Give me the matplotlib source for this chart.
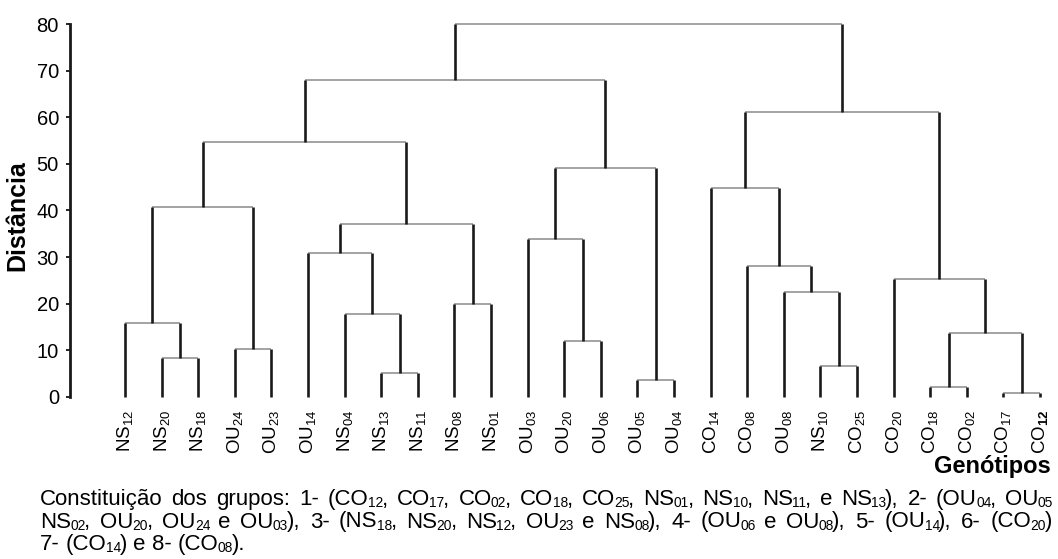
import re
import numpy as np
import matplotlib
matplotlib.use('Agg')
import matplotlib.pyplot as plt
from matplotlib.font_manager import FontProperties

plt.rcParams['font.family'] = ['Liberation Sans', 'DejaVu Sans']
plt.rcParams['mathtext.fontset'] = 'custom'
plt.rcParams['mathtext.rm'] = 'Liberation Sans'
plt.rcParams['mathtext.it'] = 'Liberation Sans:italic'
plt.rcParams['mathtext.bf'] = 'Liberation Sans:bold'
plt.rcParams['mathtext.sf'] = 'Liberation Sans'

# leaves, in dendrogram order
leaf_base = ['NS', 'NS', 'NS', 'OU', 'OU', 'OU', 'NS', 'NS', 'NS', 'NS', 'NS',
             'OU', 'OU', 'OU', 'OU', 'OU', 'CO', 'CO', 'OU', 'NS', 'CO', 'CO',
             'CO', 'CO', 'CO', 'CO']
leaf_sub = ['12', '20', '18', '24', '23', '14', '04', '13', '11', '08', '01',
            '03', '20', '06', '05', '04', '14', '08', '08', '10', '25', '20',
            '18', '02', '17', '12']

# merges: ids 0..25 are leaves, merge k gets id 26 + k
merge_left = [1, 0, 3, 27, 7, 6, 5, 9, 32, 29, 12, 11, 14, 37, 35,
              19, 18, 17, 16, 22, 24, 45, 21, 44, 40]
merge_right = [2, 26, 4, 28, 8, 30, 31, 10, 33, 34, 13, 36, 15, 38, 39,
               20, 41, 42, 43, 23, 25, 46, 47, 48, 49]
merge_height = [8.4, 15.8, 10.2, 40.7, 5.1, 17.8, 30.8, 20.0, 37.1, 54.6,
                12.0, 33.8, 3.6, 49.1, 68.0, 6.7, 22.5, 28.0, 44.8, 2.2,
                0.8, 13.8, 25.3, 61.1, 80.0]

# caption lines, _{..} marks a subscript
caption = [
    'Constituição dos grupos: 1- (CO_{12}, CO_{17}, CO_{02}, CO_{18}, CO_{25}, '
    'NS_{01}, NS_{10}, NS_{11}, e NS_{13}), 2- (OU_{04}, OU_{05}',
    'NS_{02}, OU_{20}, OU_{24} e OU_{03}), 3- (NS_{18}, NS_{20}, NS_{12}, OU_{23} e '
    'NS_{08}), 4- (OU_{06} e OU_{08}), 5- (OU_{14}), 6- (CO_{20})',
    '7- (CO_{14}) e 8- (CO_{08}).',
]
caption_justify = [True, True, False]

W, H = 1058, 559
fig = plt.figure(figsize=(W / 100, H / 100), dpi=100, facecolor='white')
ax_l, ax_r, ax_b, ax_t = 70, 1058, 397, 24
ax = fig.add_axes([ax_l / W, 1 - ax_b / H, (ax_r - ax_l) / W, (ax_b - ax_t) / H])

n_leaf = len(leaf_base)
step = 36.6
x0 = -(125 - ax_l) / step
ax.set_xlim(x0, x0 + (ax_r - ax_l) / step)
ax.set_ylim(0, 80)

# node x positions / heights
xpos = {i: float(i) for i in range(n_leaf)}
hgt = {i: 0.0 for i in range(n_leaf)}
VCOL, HCOL = '#1a1a1a', '#8a8a8a'
for k, (a, b, h) in enumerate(zip(merge_left, merge_right, merge_height)):
    nid = n_leaf + k
    xa, xb = xpos[a], xpos[b]
    ax.plot([xa, xb], [h, h], color=HCOL, lw=1.1, clip_on=False,
            solid_capstyle='butt', zorder=2)
    ax.plot([xa, xa], [hgt[a], h], color=VCOL, lw=1.9, clip_on=False,
            solid_capstyle='butt', zorder=3)
    ax.plot([xb, xb], [hgt[b], h], color=VCOL, lw=1.9, clip_on=False,
            solid_capstyle='butt', zorder=3)
    xpos[nid] = (xa + xb) / 2
    hgt[nid] = h

# leaf labels
per_px = 80 / (ax_b - ax_t)
for i, (base, sub) in enumerate(zip(leaf_base, leaf_sub)):
    if i == n_leaf - 1:
        lab = base + r'$_{\mathbf{' + sub + '}}$'
    else:
        lab = base + r'$_{\mathrm{' + sub + '}}$'
    ax.text(i, -(410 - ax_b) * per_px, lab, rotation=90, ha='center',
            va='top', fontsize=13.5, clip_on=False)

ax.set_yticks(np.arange(0, 81, 10))
ax.set_xticks([])
ax.tick_params(axis='y', direction='out', length=3, width=1.2, pad=5,
               labelsize=14.5, colors='black')
for s in ('top', 'right', 'bottom'):
    ax.spines[s].set_visible(False)
ax.spines['left'].set_linewidth(2)
ax.spines['left'].set_color('#1a1a1a')
ax.patch.set_alpha(0)

fig.text(17 / W, 1 - 216 / H, 'Distância', rotation=90, ha='center',
         va='center', fontsize=18, fontweight='bold')
fig.text(1051 / W, 1 - 473 / H, 'Genótipos', ha='right', va='baseline',
         fontsize=17, fontweight='bold')

# caption, drawn run by run so the subscripts stay small and the first
# two lines can be justified like the original
renderer = fig.canvas.get_renderer()


def advance(txt, size):
    prop = FontProperties(family='Liberation Sans', size=size)
    w1 = renderer.get_text_width_height_descent('x' + txt + 'x', prop, False)[0]
    w0 = renderer.get_text_width_height_descent('xx', prop, False)[0]
    return w1 - w0


def tokens(line, size):
    out = []
    for part in re.split(r'(_\{[^}]*\})', line):
        if not part:
            continue
        if part.startswith('_{'):
            out.append((part[2:-1], size * 0.62, True))
        else:
            for w in re.split(r'( )', part):
                if w:
                    out.append((w, size, False))
    return out


def draw_line(x_px, y_px, line, size, right_px=None):
    toks = tokens(line, size)
    widths = [advance(t, s) - (2.0 if sub else 0) for t, s, sub in toks]
    n_sp = sum(1 for t, _, _ in toks if t == ' ')
    extra = 0.0
    if right_px is not None and n_sp:
        extra = (right_px - x_px - sum(widths)) / n_sp
    x = x_px
    for (t, s, sub), w in zip(toks, widths):
        if t == ' ':
            x += w + extra
            continue
        dx, dy = (-0.7, 2.0) if sub else (0.0, 0.0)
        fig.text((x + dx) / W, 1 - (y_px + dy) / H, t, fontsize=s,
                 ha='left', va='baseline')
        x += w


cap_size = 16
for j, (line, just) in enumerate(zip(caption, caption_justify)):
    draw_line(40, 505 + 22.5 * j, line, cap_size, 1052 if just else None)

fig.savefig('out.png', dpi=100, facecolor='white')
